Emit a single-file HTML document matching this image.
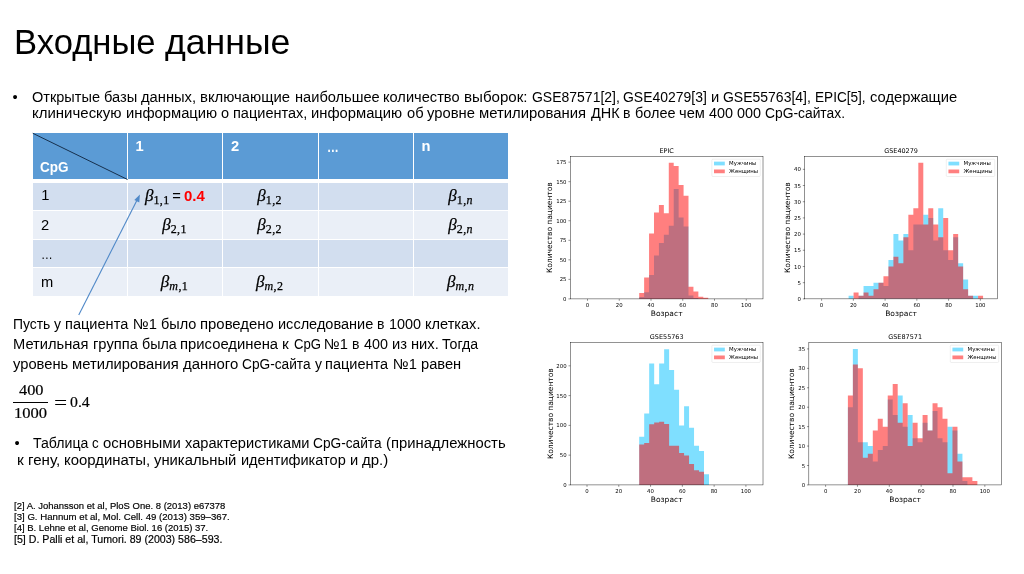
<!DOCTYPE html>
<html lang="ru"><head><meta charset="utf-8"><title>Входные данные</title>
<style>
html,body{margin:0;padding:0;background:#fff}
body{width:1024px;height:574px;position:relative;overflow:hidden;font-family:"Liberation Sans",sans-serif;color:#000}
.t,.r{position:absolute;white-space:nowrap;line-height:1;transform-origin:0 50%}
.t{font-family:"Liberation Sans",sans-serif}
.r{font-family:"Liberation Serif",serif;-webkit-text-stroke:.2px #000}
.f{-webkit-text-stroke:.15px #000}
.c{position:absolute}
.b{position:absolute;white-space:nowrap;line-height:1;font-family:"Liberation Serif","DejaVu Serif",serif;font-style:italic;text-align:center;-webkit-text-stroke:0.25px #000}
.b sub{font-size:12px;vertical-align:baseline;position:relative;top:3px;font-style:normal;letter-spacing:0.4px}
.b sub i{font-style:italic}
svg{position:absolute;overflow:visible}
h1,p,ul,li,figure,footer,section{margin:0;padding:0;font:inherit;list-style:none;display:block}
</style></head><body>
<h1>
<span class="t" style="left:13.60px;top:25.27px;font-size:34.3px;transform:scaleX(1.0096);">Входные</span>
<span class="t" style="left:164.82px;top:25.27px;font-size:34.3px;transform:scaleX(1.0388);">данные</span>
</h1>
<ul><li>
<span class="t" style="left:12.60px;top:89.56px;font-size:14.7px;">•</span>
<span class="t" style="left:31.90px;top:89.56px;font-size:14.7px;transform:scaleX(0.9886);">Открытые</span>
<span class="t" style="left:103.91px;top:89.56px;font-size:14.7px;transform:scaleX(0.9983);">базы</span>
<span class="t" style="left:141.30px;top:89.56px;font-size:14.7px;transform:scaleX(1.0020);">данных,</span>
<span class="t" style="left:200.45px;top:89.56px;font-size:14.7px;transform:scaleX(1.0117);">включающие</span>
<span class="t" style="left:294.57px;top:89.56px;font-size:14.7px;transform:scaleX(0.9957);">наибольшее</span>
<span class="t" style="left:383.36px;top:89.56px;font-size:14.7px;transform:scaleX(0.9954);">количество</span>
<span class="t" style="left:463.99px;top:89.56px;font-size:14.7px;transform:scaleX(1.0282);">выборок:</span>
<span class="t" style="left:531.72px;top:89.56px;font-size:14.7px;transform:scaleX(0.9519);">GSE87571[2],</span>
<span class="t" style="left:623.44px;top:89.56px;font-size:14.7px;transform:scaleX(0.9506);">GSE40279[3]</span>
<span class="t" style="left:711.16px;top:89.56px;font-size:14.7px;transform:scaleX(1.0029);">и</span>
<span class="t" style="left:723.49px;top:89.56px;font-size:14.7px;transform:scaleX(0.9519);">GSE55763[4],</span>
<span class="t" style="left:815.22px;top:89.56px;font-size:14.7px;transform:scaleX(0.9257);">EPIC[5],</span>
<span class="t" style="left:869.63px;top:89.56px;font-size:14.7px;transform:scaleX(1.0059);">содержащие</span>
<span class="t" style="left:31.90px;top:105.56px;font-size:14.7px;transform:scaleX(1.0203);">клиническую</span>
<span class="t" style="left:125.65px;top:105.56px;font-size:14.7px;transform:scaleX(1.0057);">информацию</span>
<span class="t" style="left:220.91px;top:105.56px;font-size:14.7px;transform:scaleX(0.9874);">о</span>
<span class="t" style="left:233.01px;top:105.56px;font-size:14.7px;transform:scaleX(0.9889);">пациентах,</span>
<span class="t" style="left:311.39px;top:105.56px;font-size:14.7px;transform:scaleX(1.0057);">информацию</span>
<span class="t" style="left:406.65px;top:105.56px;font-size:14.7px;transform:scaleX(0.9989);">об</span>
<span class="t" style="left:427.30px;top:105.56px;font-size:14.7px;transform:scaleX(1.0067);">уровне</span>
<span class="t" style="left:479.33px;top:105.56px;font-size:14.7px;transform:scaleX(1.0117);">метилирования</span>
<span class="t" style="left:590.60px;top:105.56px;font-size:14.7px;transform:scaleX(0.9843);">ДНК</span>
<span class="t" style="left:623.29px;top:105.56px;font-size:14.7px;transform:scaleX(0.9527);">в</span>
<span class="t" style="left:634.61px;top:105.56px;font-size:14.7px;transform:scaleX(0.9833);">более</span>
<span class="t" style="left:679.11px;top:105.56px;font-size:14.7px;transform:scaleX(0.9965);">чем</span>
<span class="t" style="left:709.00px;top:105.56px;font-size:14.7px;transform:scaleX(0.9803);">400</span>
<span class="t" style="left:737.03px;top:105.56px;font-size:14.7px;transform:scaleX(0.9803);">000</span>
<span class="t" style="left:765.06px;top:105.56px;font-size:14.7px;transform:scaleX(0.9415);">CpG-сайтах.</span>
</li></ul>
<section class="tbl">
<div class="c" style="left:32.75px;top:133.25px;width:94.25px;height:45.75px;background:#5b9bd5"></div>
<div class="c" style="left:128.00px;top:133.25px;width:94.25px;height:45.75px;background:#5b9bd5"></div>
<div class="c" style="left:223.25px;top:133.25px;width:94.25px;height:45.75px;background:#5b9bd5"></div>
<div class="c" style="left:318.50px;top:133.25px;width:94.25px;height:45.75px;background:#5b9bd5"></div>
<div class="c" style="left:413.75px;top:133.25px;width:94.25px;height:45.75px;background:#5b9bd5"></div>
<div class="c" style="left:32.75px;top:182.75px;width:94.25px;height:26.75px;background:#d2deef"></div>
<div class="c" style="left:128.00px;top:182.75px;width:94.25px;height:26.75px;background:#d2deef"></div>
<div class="c" style="left:223.25px;top:182.75px;width:94.25px;height:26.75px;background:#d2deef"></div>
<div class="c" style="left:318.50px;top:182.75px;width:94.25px;height:26.75px;background:#d2deef"></div>
<div class="c" style="left:413.75px;top:182.75px;width:94.25px;height:26.75px;background:#d2deef"></div>
<div class="c" style="left:32.75px;top:210.50px;width:94.25px;height:28.50px;background:#eaeff7"></div>
<div class="c" style="left:128.00px;top:210.50px;width:94.25px;height:28.50px;background:#eaeff7"></div>
<div class="c" style="left:223.25px;top:210.50px;width:94.25px;height:28.50px;background:#eaeff7"></div>
<div class="c" style="left:318.50px;top:210.50px;width:94.25px;height:28.50px;background:#eaeff7"></div>
<div class="c" style="left:413.75px;top:210.50px;width:94.25px;height:28.50px;background:#eaeff7"></div>
<div class="c" style="left:32.75px;top:240.00px;width:94.25px;height:26.50px;background:#d2deef"></div>
<div class="c" style="left:128.00px;top:240.00px;width:94.25px;height:26.50px;background:#d2deef"></div>
<div class="c" style="left:223.25px;top:240.00px;width:94.25px;height:26.50px;background:#d2deef"></div>
<div class="c" style="left:318.50px;top:240.00px;width:94.25px;height:26.50px;background:#d2deef"></div>
<div class="c" style="left:413.75px;top:240.00px;width:94.25px;height:26.50px;background:#d2deef"></div>
<div class="c" style="left:32.75px;top:267.50px;width:94.25px;height:28.00px;background:#eaeff7"></div>
<div class="c" style="left:128.00px;top:267.50px;width:94.25px;height:28.00px;background:#eaeff7"></div>
<div class="c" style="left:223.25px;top:267.50px;width:94.25px;height:28.00px;background:#eaeff7"></div>
<div class="c" style="left:318.50px;top:267.50px;width:94.25px;height:28.00px;background:#eaeff7"></div>
<div class="c" style="left:413.75px;top:267.50px;width:94.25px;height:28.00px;background:#eaeff7"></div>
<svg style="left:0;top:0" width="1024" height="574" viewBox="0 0 1024 574"><line x1="32.75" y1="133.25" x2="127.5" y2="179.5" stroke="#17304d" stroke-width="1"/><line x1="78.75" y1="315" x2="137.6" y2="199" stroke="#5089c8" stroke-width="1.1"/><path d="M139.9 194.6 L139.3 202.6 L134.3 200 Z" fill="#5089c8"/></svg>
<span class="t" style="left:40.20px;top:159.96px;font-size:14.7px;transform:scaleX(0.9200);font-weight:bold;color:#fff;">CpG</span>
<span class="t" style="left:135.50px;top:139.26px;font-size:14.7px;font-weight:bold;color:#fff;">1</span>
<span class="t" style="left:231.00px;top:139.26px;font-size:14.7px;font-weight:bold;color:#fff;">2</span>
<span class="t" style="left:326.50px;top:140.46px;font-size:14.7px;transform:scaleX(0.8000);font-weight:bold;color:#fff;">…</span>
<span class="t" style="left:421.50px;top:139.26px;font-size:14.7px;font-weight:bold;color:#fff;">n</span>
<span class="t" style="left:41.30px;top:187.86px;font-size:14.7px;">1</span>
<span class="t" style="left:41.00px;top:217.86px;font-size:14.7px;">2</span>
<span class="t" style="left:41.00px;top:247.06px;font-size:14.7px;transform:scaleX(0.8000);">…</span>
<span class="t" style="left:41.00px;top:274.76px;font-size:14.7px;">m</span>
<span class="b" style="left:145.00px;top:187.45px;font-size:17.0px;text-align:left">β<sub>1,1</sub></span>
<span class="t" style="left:172.20px;top:189.36px;font-size:14.7px;">=</span>
<span class="t" style="left:184.30px;top:188.76px;font-size:14.7px;transform:scaleX(1.0200);font-weight:bold;color:#f00;">0.4</span>
<span class="b" style="left:229.68px;width:80px;top:187.45px;font-size:17.0px">β<sub>1,2</sub></span>
<span class="b" style="left:420.62px;width:80px;top:187.45px;font-size:17.0px">β<sub>1,<i>n</i></sub></span>
<span class="b" style="left:134.53px;width:80px;top:215.75px;font-size:17.0px">β<sub>2,1</sub></span>
<span class="b" style="left:229.68px;width:80px;top:215.75px;font-size:17.0px">β<sub>2,2</sub></span>
<span class="b" style="left:420.62px;width:80px;top:215.75px;font-size:17.0px">β<sub>2,<i>n</i></sub></span>
<span class="b" style="left:134.53px;width:80px;top:272.65px;font-size:17.0px">β<sub><i>m</i>,1</sub></span>
<span class="b" style="left:229.68px;width:80px;top:272.65px;font-size:17.0px">β<sub><i>m</i>,2</sub></span>
<span class="b" style="left:420.62px;width:80px;top:272.65px;font-size:17.0px">β<sub><i>m</i>,<i>n</i></sub></span>
</section>
<p>
<span class="t" style="left:13.15px;top:316.56px;font-size:14.7px;transform:scaleX(0.9470);">Пусть</span>
<span class="t" style="left:54.39px;top:316.56px;font-size:14.7px;transform:scaleX(0.9509);">у</span>
<span class="t" style="left:65.27px;top:316.56px;font-size:14.7px;transform:scaleX(0.9923);">пациента</span>
<span class="t" style="left:132.59px;top:316.56px;font-size:14.7px;transform:scaleX(1.0046);">№1</span>
<span class="t" style="left:160.73px;top:316.56px;font-size:14.7px;transform:scaleX(0.9861);">было</span>
<span class="t" style="left:200.14px;top:316.56px;font-size:14.7px;transform:scaleX(1.0140);">проведено</span>
<span class="t" style="left:278.09px;top:316.56px;font-size:14.7px;transform:scaleX(0.9892);">исследование</span>
<span class="t" style="left:377.43px;top:316.56px;font-size:14.7px;transform:scaleX(0.9502);">в</span>
<span class="t" style="left:388.73px;top:316.56px;font-size:14.7px;transform:scaleX(0.9810);">1000</span>
<span class="t" style="left:424.80px;top:316.56px;font-size:14.7px;transform:scaleX(0.9918);">клетках.</span>
<span class="t" style="left:13.15px;top:336.76px;font-size:14.7px;transform:scaleX(0.9992);">Метильная</span>
<span class="t" style="left:92.65px;top:336.76px;font-size:14.7px;transform:scaleX(1.0024);">группа</span>
<span class="t" style="left:141.64px;top:336.76px;font-size:14.7px;transform:scaleX(0.9705);">была</span>
<span class="t" style="left:180.26px;top:336.76px;font-size:14.7px;transform:scaleX(1.0094);">присоединена</span>
<span class="t" style="left:282.48px;top:336.76px;font-size:14.7px;transform:scaleX(1.0501);">к</span>
<span class="t" style="left:293.53px;top:336.76px;font-size:14.7px;transform:scaleX(0.8939);">CpG</span>
<span class="t" style="left:324.17px;top:336.76px;font-size:14.7px;transform:scaleX(1.0040);">№1</span>
<span class="t" style="left:352.30px;top:336.76px;font-size:14.7px;transform:scaleX(0.9496);">в</span>
<span class="t" style="left:363.59px;top:336.76px;font-size:14.7px;transform:scaleX(0.9772);">400</span>
<span class="t" style="left:391.53px;top:336.76px;font-size:14.7px;transform:scaleX(1.0004);">из</span>
<span class="t" style="left:410.57px;top:336.76px;font-size:14.7px;transform:scaleX(0.9986);">них.</span>
<span class="t" style="left:442.35px;top:336.76px;font-size:14.7px;transform:scaleX(0.9645);">Тогда</span>
<span class="t" style="left:12.70px;top:356.96px;font-size:14.7px;transform:scaleX(1.0023);">уровень</span>
<span class="t" style="left:72.01px;top:356.96px;font-size:14.7px;transform:scaleX(1.0073);">метилирования</span>
<span class="t" style="left:182.79px;top:356.96px;font-size:14.7px;transform:scaleX(1.0178);">данного</span>
<span class="t" style="left:242.25px;top:356.96px;font-size:14.7px;transform:scaleX(0.9324);">CpG-сайта</span>
<span class="t" style="left:314.63px;top:356.96px;font-size:14.7px;transform:scaleX(0.9492);">у</span>
<span class="t" style="left:325.49px;top:356.96px;font-size:14.7px;transform:scaleX(0.9905);">пациента</span>
<span class="t" style="left:392.68px;top:356.96px;font-size:14.7px;transform:scaleX(1.0028);">№1</span>
<span class="t" style="left:420.78px;top:356.96px;font-size:14.7px;transform:scaleX(0.9979);">равен</span>
<span class="r" style="left:18.50px;top:382.25px;font-size:15.2px;transform:scaleX(1.0755);">400</span>
<div class="c" style="left:13.2px;top:401.7px;width:34.6px;height:1px;background:#000"></div>
<span class="r" style="left:14.40px;top:404.75px;font-size:15.2px;transform:scaleX(1.0895);">1000</span>
<span class="r" style="left:53.60px;top:394.55px;font-size:15.2px;transform:scale(1.54,1.25);-webkit-text-stroke:0;">=</span>
<span class="r" style="left:70.30px;top:393.95px;font-size:15.2px;transform:scaleX(1.0379);">0.4</span>
</p>
<ul><li>
<span class="t" style="left:14.60px;top:435.81px;font-size:14.7px;">•</span>
<span class="t" style="left:33.15px;top:435.81px;font-size:14.7px;transform:scaleX(0.9606);">Таблица</span>
<span class="t" style="left:92.39px;top:435.81px;font-size:14.7px;transform:scaleX(0.9074);">с</span>
<span class="t" style="left:102.77px;top:435.81px;font-size:14.7px;transform:scaleX(1.0176);">основными</span>
<span class="t" style="left:184.85px;top:435.81px;font-size:14.7px;transform:scaleX(0.9969);">характеристиками</span>
<span class="t" style="left:313.42px;top:435.81px;font-size:14.7px;transform:scaleX(0.9329);">CpG-сайта</span>
<span class="t" style="left:385.83px;top:435.81px;font-size:14.7px;transform:scaleX(1.0098);">(принадлежность</span>
<span class="t" style="left:16.50px;top:452.56px;font-size:14.7px;transform:scaleX(1.0510);">к</span>
<span class="t" style="left:27.55px;top:452.56px;font-size:14.7px;transform:scaleX(1.0279);">гену,</span>
<span class="t" style="left:63.90px;top:452.56px;font-size:14.7px;transform:scaleX(1.0159);">координаты,</span>
<span class="t" style="left:154.25px;top:452.56px;font-size:14.7px;transform:scaleX(1.0087);">уникальный</span>
<span class="t" style="left:240.76px;top:452.56px;font-size:14.7px;transform:scaleX(0.9901);">идентификатор</span>
<span class="t" style="left:349.53px;top:452.56px;font-size:14.7px;transform:scaleX(0.9992);">и</span>
<span class="t" style="left:361.81px;top:452.56px;font-size:14.7px;transform:scaleX(1.0205);">др.)</span>
</li></ul>
<footer>
<span class="t" style="left:13.75px;top:501.08px;font-size:9.65px;transform:scaleX(0.9848);-webkit-text-stroke:.18px #000;">[2] A. Johansson et al, PloS One. 8 (2013) e67378</span>
<span class="t" style="left:13.75px;top:512.03px;font-size:9.65px;transform:scaleX(1.0004);-webkit-text-stroke:.18px #000;">[3] G. Hannum et al, Mol. Cell. 49 (2013) 359–367.</span>
<span class="t" style="left:13.75px;top:523.43px;font-size:9.65px;transform:scaleX(0.9892);-webkit-text-stroke:.18px #000;">[4] B. Lehne et al, Genome Biol. 16 (2015) 37.</span>
<span class="t" style="left:13.75px;top:534.64px;font-size:10.35px;transform:scaleX(1.0268);-webkit-text-stroke:.18px #000;">[5] D. Palli et al, Tumori. 89 (2003) 586–593.</span>
</footer>
<figure>
<svg style="left:0;top:0;filter:blur(.4px)" width="1024" height="574" viewBox="0 0 1024 574">
<svg x="539.22" y="134.31" width="248.65" height="184.94" viewBox="0 0 460.8 345.6" preserveAspectRatio="none" font-family="'DejaVu Sans',sans-serif" font-size="10" fill="#000">
<path d="M185.29 307.58V304.03H194.42V295.25H203.56V263.12H212.7V226.31H221.83V202.95H230.97V187.63H240.11V171H249.24V102.06H258.38V155.49H267.52V172.5H276.65V301.04H285.79V305.72H294.93V307.58Z" fill="#00bfff" fill-opacity=".5"/>
<path d="M185.29 307.58V296.75H194.42V267.41H203.56V185.2H212.7V145.97H221.83V131.95H230.97V147.65H240.11V53.1H249.24V59.08H258.38V94.58H267.52V114.76H276.65V284.98H285.79V293.76H294.93V303.47H304.06V305.53H313.2V307.58Z" fill="#ff0000" fill-opacity=".5"/>
<path d="M89.48 307.58v3.5M148.32 307.58v3.5M207.16 307.58v3.5M266 307.58v3.5M324.84 307.58v3.5M383.68 307.58v3.5M57.6 307.58h-3.5M57.6 271.07h-3.5M57.6 234.56h-3.5M57.6 198.04h-3.5M57.6 161.53h-3.5M57.6 125.02h-3.5M57.6 88.5h-3.5M57.6 51.99h-3.5" stroke="#000" stroke-width=".8" fill="none"/>
<rect x="57.6" y="41.472" width="357.12" height="266.112" fill="none" stroke="#000" stroke-width=".8"/>
<g text-anchor="middle">
<text x="89.48" y="322.18">0</text>
<text x="148.32" y="322.18">20</text>
<text x="207.16" y="322.18">40</text>
<text x="266" y="322.18">60</text>
<text x="324.84" y="322.18">80</text>
<text x="383.68" y="322.18">100</text>
<text x="236.16" y="338.9" font-size="14">Возраст</text>
<text x="236.16" y="35.47" font-size="12">EPIC</text>
<text x="24.6" y="174.53" font-size="14" transform="rotate(-90 24.6 174.53)">Количество пациентов</text>
</g><g text-anchor="end">
<text x="50.6" y="311.38">0</text>
<text x="50.6" y="274.87">25</text>
<text x="50.6" y="238.36">50</text>
<text x="50.6" y="201.84">75</text>
<text x="50.6" y="165.33">100</text>
<text x="50.6" y="128.82">125</text>
<text x="50.6" y="92.3">150</text>
<text x="50.6" y="55.79">175</text>
</g>
<rect x="319.91" y="46.47" width="89.81" height="32.36" rx="2" fill="#fff" fill-opacity=".8" stroke="#ccc" stroke-opacity=".6"/>
<rect x="323.91" y="51.07" width="20" height="7" fill="#00bfff" fill-opacity=".5"/>
<rect x="323.91" y="65.75" width="20" height="7" fill="#ff0000" fill-opacity=".5"/>
<text x="351.91" y="58.07">Мужчины</text><text x="351.91" y="72.75">Женщины</text>
</svg>
<svg x="773.61" y="134.37" width="248.71" height="184.83" viewBox="0 0 460.8 345.6" preserveAspectRatio="none" font-family="'DejaVu Sans',sans-serif" font-size="10" fill="#000">
<path d="M138.94 307.58V301.53H148.16V307.58ZM157.39 307.58V301.53H166.62V283.36H175.84V283.36H185.07V277.31H194.3V277.31H203.52V283.36H212.75V234.93H221.98V186.49H231.2V198.6H240.43V186.49H249.66V216.76H258.88V168.32H268.11V168.32H277.34V150.16H286.56V156.21H295.79V198.6H305.02V138.05H314.24V216.76H323.47V234.93H332.7V192.54H341.92V240.98H351.15V271.25H360.38V301.53H369.61V301.53H378.83V307.58Z" fill="#00bfff" fill-opacity=".5"/>
<path d="M148.16 307.58V295.47H157.39V301.53H166.62V295.47H175.84V301.53H185.07V289.42H194.3V277.31H203.52V265.2H212.75V247.04H221.98V228.87H231.2V240.98H240.43V192.54H249.66V150.16H258.88V138.05H268.11V53.28H277.34V168.32H286.56V138.05H295.79V168.32H305.02V192.54H314.24V156.21H323.47V216.76H332.7V186.49H341.92V247.04H351.15V289.42H360.38V301.53H369.61V307.58ZM378.83 307.58V301.53H388.06V307.58Z" fill="#ff0000" fill-opacity=".5"/>
<path d="M88.91 307.58v3.5M147.74 307.58v3.5M206.56 307.58v3.5M265.39 307.58v3.5M324.21 307.58v3.5M383.04 307.58v3.5M57.6 307.58h-3.5M57.6 277.31h-3.5M57.6 247.04h-3.5M57.6 216.76h-3.5M57.6 186.49h-3.5M57.6 156.21h-3.5M57.6 125.94h-3.5M57.6 95.66h-3.5M57.6 65.39h-3.5" stroke="#000" stroke-width=".8" fill="none"/>
<rect x="57.6" y="41.472" width="357.12" height="266.112" fill="none" stroke="#000" stroke-width=".8"/>
<g text-anchor="middle">
<text x="88.91" y="322.18">0</text>
<text x="147.74" y="322.18">20</text>
<text x="206.56" y="322.18">40</text>
<text x="265.39" y="322.18">60</text>
<text x="324.21" y="322.18">80</text>
<text x="383.04" y="322.18">100</text>
<text x="236.16" y="338.9" font-size="14">Возраст</text>
<text x="236.16" y="35.47" font-size="12">GSE40279</text>
<text x="30.96" y="174.53" font-size="14" transform="rotate(-90 30.96 174.53)">Количество пациентов</text>
</g><g text-anchor="end">
<text x="50.6" y="311.38">0</text>
<text x="50.6" y="281.11">5</text>
<text x="50.6" y="250.84">10</text>
<text x="50.6" y="220.56">15</text>
<text x="50.6" y="190.29">20</text>
<text x="50.6" y="160.01">25</text>
<text x="50.6" y="129.74">30</text>
<text x="50.6" y="99.46">35</text>
<text x="50.6" y="69.19">40</text>
</g>
<rect x="319.91" y="46.47" width="89.81" height="32.36" rx="2" fill="#fff" fill-opacity=".8" stroke="#ccc" stroke-opacity=".6"/>
<rect x="323.91" y="51.07" width="20" height="7" fill="#00bfff" fill-opacity=".5"/>
<rect x="323.91" y="65.75" width="20" height="7" fill="#ff0000" fill-opacity=".5"/>
<text x="351.91" y="58.07">Мужчины</text><text x="351.91" y="72.75">Женщины</text>
</svg>
<svg x="539.34" y="320.30" width="248.52" height="184.97" viewBox="0 0 460.8 345.6" preserveAspectRatio="none" font-family="'DejaVu Sans',sans-serif" font-size="10" fill="#000">
<path d="M185.17 307.58V217.47H194.41V174.08H203.66V80.63H212.9V119.57H222.14V80.63H231.39V53.93H240.63V92.87H249.87V129.58H259.12V196.33H268.36V160.73H277.6V200.78H286.84V234.16H296.09V244.17H305.33V287.56H314.57V307.58Z" fill="#00bfff" fill-opacity=".5"/>
<path d="M185.17 307.58V231.93H194.41V229.04H203.66V194.11H212.9V190.77H222.14V189.66H231.39V193.55H240.63V234.16H249.87V234.16H259.12V248.06H268.36V252.51H277.6V268.65H286.84V280.33H296.09V283.11H305.33V307.58Z" fill="#ff0000" fill-opacity=".5"/>
<path d="M88.38 307.58v3.5M147.31 307.58v3.5M206.23 307.58v3.5M265.16 307.58v3.5M324.09 307.58v3.5M383.01 307.58v3.5M57.6 307.58h-3.5M57.6 251.96h-3.5M57.6 196.33h-3.5M57.6 140.71h-3.5M57.6 85.08h-3.5" stroke="#000" stroke-width=".8" fill="none"/>
<rect x="57.6" y="41.472" width="357.12" height="266.112" fill="none" stroke="#000" stroke-width=".8"/>
<g text-anchor="middle">
<text x="88.38" y="322.18">0</text>
<text x="147.31" y="322.18">20</text>
<text x="206.23" y="322.18">40</text>
<text x="265.16" y="322.18">60</text>
<text x="324.09" y="322.18">80</text>
<text x="383.01" y="322.18">100</text>
<text x="236.16" y="338.9" font-size="14">Возраст</text>
<text x="236.16" y="35.47" font-size="12">GSE55763</text>
<text x="24.6" y="174.53" font-size="14" transform="rotate(-90 24.6 174.53)">Количество пациентов</text>
</g><g text-anchor="end">
<text x="50.6" y="311.38">0</text>
<text x="50.6" y="255.76">50</text>
<text x="50.6" y="200.13">100</text>
<text x="50.6" y="144.51">150</text>
<text x="50.6" y="88.88">200</text>
</g>
<rect x="319.91" y="46.47" width="89.81" height="32.36" rx="2" fill="#fff" fill-opacity=".8" stroke="#ccc" stroke-opacity=".6"/>
<rect x="323.91" y="51.07" width="20" height="7" fill="#00bfff" fill-opacity=".5"/>
<rect x="323.91" y="65.75" width="20" height="7" fill="#ff0000" fill-opacity=".5"/>
<text x="351.91" y="58.07">Мужчины</text><text x="351.91" y="72.75">Женщины</text>
</svg>
<svg x="777.79" y="320.30" width="248.45" height="184.97" viewBox="0 0 460.8 345.6" preserveAspectRatio="none" font-family="'DejaVu Sans',sans-serif" font-size="10" fill="#000">
<path d="M130.03 307.58V162.37H139.26V53.45H148.5V227.71H157.73V227.71H166.97V234.97H176.21V264.02H185.44V242.24H194.68V234.97H203.92V147.84H213.15V176.89H222.39V140.58H231.63V198.67H240.86V176.89H250.1V220.45H259.33V227.71H268.57V191.41H277.81V205.93H287.04V169.63H296.28V220.45H305.52V227.71H314.75V198.67H323.99V205.93H333.23V249.5H342.46V300.32H351.7V307.58Z" fill="#00bfff" fill-opacity=".5"/>
<path d="M130.03 307.58V140.58H139.26V82.5H148.5V89.76H157.73V256.76H166.97V249.5H176.21V205.93H185.44V184.15H194.68V198.67H203.92V140.58H213.15V118.8H222.39V191.41H231.63V155.11H240.86V234.97H250.1V191.41H259.33V220.45H268.57V176.89H277.81V205.93H287.04V155.11H296.28V162.37H305.52V184.15H314.75V285.8H323.99V198.67H333.23V264.02H342.46V293.06H351.7V293.06H360.93V300.32H370.17V307.58Z" fill="#ff0000" fill-opacity=".5"/>
<path d="M88.67 307.58v3.5M147.74 307.58v3.5M206.81 307.58v3.5M265.88 307.58v3.5M324.95 307.58v3.5M384.02 307.58v3.5M57.6 307.58h-3.5M57.6 271.28h-3.5M57.6 234.97h-3.5M57.6 198.67h-3.5M57.6 162.37h-3.5M57.6 126.06h-3.5M57.6 89.76h-3.5M57.6 53.45h-3.5" stroke="#000" stroke-width=".8" fill="none"/>
<rect x="57.6" y="41.472" width="357.12" height="266.112" fill="none" stroke="#000" stroke-width=".8"/>
<g text-anchor="middle">
<text x="88.67" y="322.18">0</text>
<text x="147.74" y="322.18">20</text>
<text x="206.81" y="322.18">40</text>
<text x="265.88" y="322.18">60</text>
<text x="324.95" y="322.18">80</text>
<text x="384.02" y="322.18">100</text>
<text x="236.16" y="338.9" font-size="14">Возраст</text>
<text x="236.16" y="35.47" font-size="12">GSE87571</text>
<text x="30.96" y="174.53" font-size="14" transform="rotate(-90 30.96 174.53)">Количество пациентов</text>
</g><g text-anchor="end">
<text x="50.6" y="311.38">0</text>
<text x="50.6" y="275.08">5</text>
<text x="50.6" y="238.77">10</text>
<text x="50.6" y="202.47">15</text>
<text x="50.6" y="166.17">20</text>
<text x="50.6" y="129.86">25</text>
<text x="50.6" y="93.56">30</text>
<text x="50.6" y="57.25">35</text>
</g>
<rect x="319.91" y="46.47" width="89.81" height="32.36" rx="2" fill="#fff" fill-opacity=".8" stroke="#ccc" stroke-opacity=".6"/>
<rect x="323.91" y="51.07" width="20" height="7" fill="#00bfff" fill-opacity=".5"/>
<rect x="323.91" y="65.75" width="20" height="7" fill="#ff0000" fill-opacity=".5"/>
<text x="351.91" y="58.07">Мужчины</text><text x="351.91" y="72.75">Женщины</text>
</svg>
</svg>
</figure>
</body></html>
